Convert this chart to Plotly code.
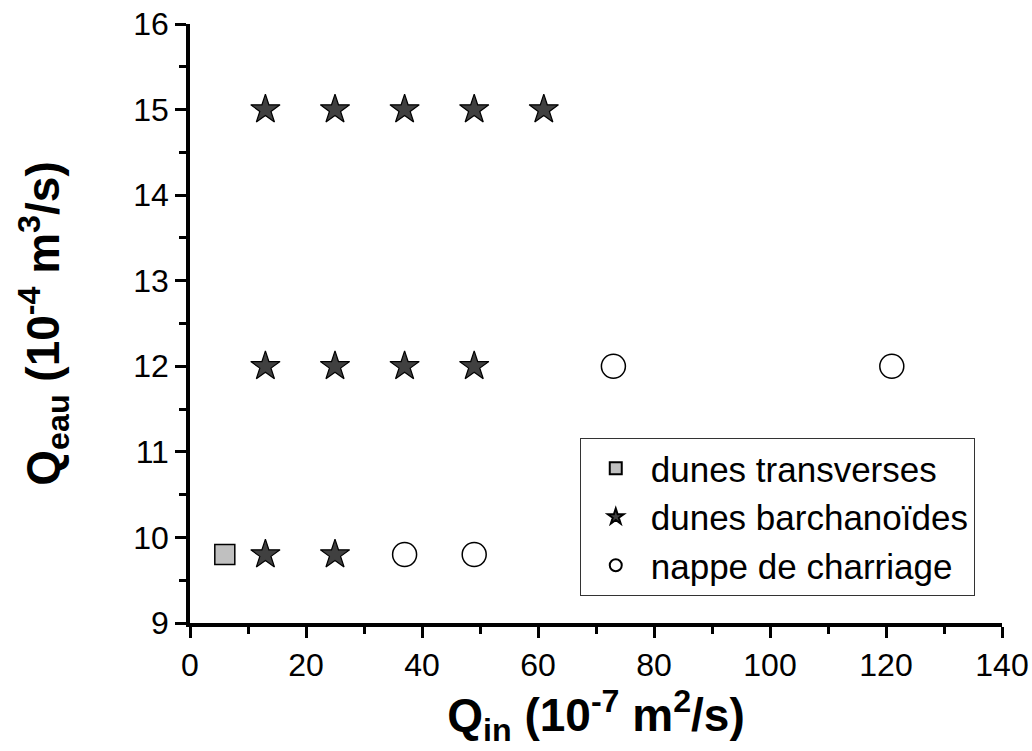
import plotly.graph_objects as go

# Data
trans_x = [6]
trans_y = [9.8]
barch_x = [13, 25, 13, 25, 37, 49, 13, 25, 37, 49, 61]
barch_y = [9.8, 9.8, 12, 12, 12, 12, 15, 15, 15, 15, 15]
nappe_x = [37, 49, 73, 121]
nappe_y = [9.8, 9.8, 12, 12]
names = ["dunes transverses", "dunes barchanoïdes", "nappe de charriage"]
x_ticks = [0, 20, 40, 60, 80, 100, 120, 140]
y_ticks = [9, 10, 11, 12, 13, 14, 15, 16]

FONT = "Liberation Sans, Arial, sans-serif"

fig = go.Figure()
fig.add_trace(go.Scatter(x=trans_x, y=trans_y, mode="markers", name=names[0],
                         marker=dict(symbol="square", size=20, color="#c0c0c0",
                                     line=dict(color="black", width=1.5))))
fig.add_trace(go.Scatter(x=barch_x, y=barch_y, mode="markers", name=names[1],
                         marker=dict(symbol="star", size=22, color="#404040",
                                     line=dict(color="black", width=1.2))))
fig.add_trace(go.Scatter(x=nappe_x, y=nappe_y, mode="markers", name=names[2],
                         marker=dict(symbol="circle", size=24, color="white",
                                     line=dict(color="black", width=1.5))))

axis_common = dict(
    showgrid=False, zeroline=False, showline=True, linecolor="black", linewidth=3.5,
    ticks="outside", tickwidth=3, ticklen=11, tickcolor="black",
    tickfont=dict(family=FONT, size=32, color="black"),
    minor=dict(ticks="outside", ticklen=7, tickwidth=3, tickcolor="black"),
    mirror=False, automargin=False, tickmode="array", ticklabeloverflow="allow",
)

fig.update_xaxes(range=[0, 140], tickvals=x_ticks, ticktext=[str(v) for v in x_ticks],
                 minor_dtick=10, minor_tick0=0,
                 title=dict(text="<b>Q<sub>in</sub> (10<sup>-7</sup> m<sup>2</sup>/s)</b>",
                            font=dict(family=FONT, size=46, color="black"), standoff=10),
                 **axis_common)
fig.update_yaxes(range=[9, 16], tickvals=y_ticks, ticktext=[str(v) for v in y_ticks],
                 minor_dtick=0.5, minor_tick0=9,
                 title=dict(text="<b>Q<sub>eau</sub> (10<sup>-4</sup> m<sup>3</sup>/s)</b>",
                            font=dict(family=FONT, size=46, color="black"), standoff=60),
                 **axis_common)

fig.update_layout(
    width=1032, height=751,
    margin=dict(l=190, r=30, t=24, b=128),
    plot_bgcolor="white", paper_bgcolor="white",
    font=dict(family=FONT, color="black"),
    legend=dict(x=0.48, xanchor="left", y=0.045, yanchor="bottom",
                bordercolor="#333333", borderwidth=1, bgcolor="white",
                font=dict(family=FONT, size=35, color="black"),
                itemsizing="constant", itemwidth=60),
    showlegend=True,
)

# remove the default 8px page margin so the figure fills the window exactly
fig.write_html("out.html", config={"displayModeBar": False},
               post_script="document.body.style.margin='0';")
